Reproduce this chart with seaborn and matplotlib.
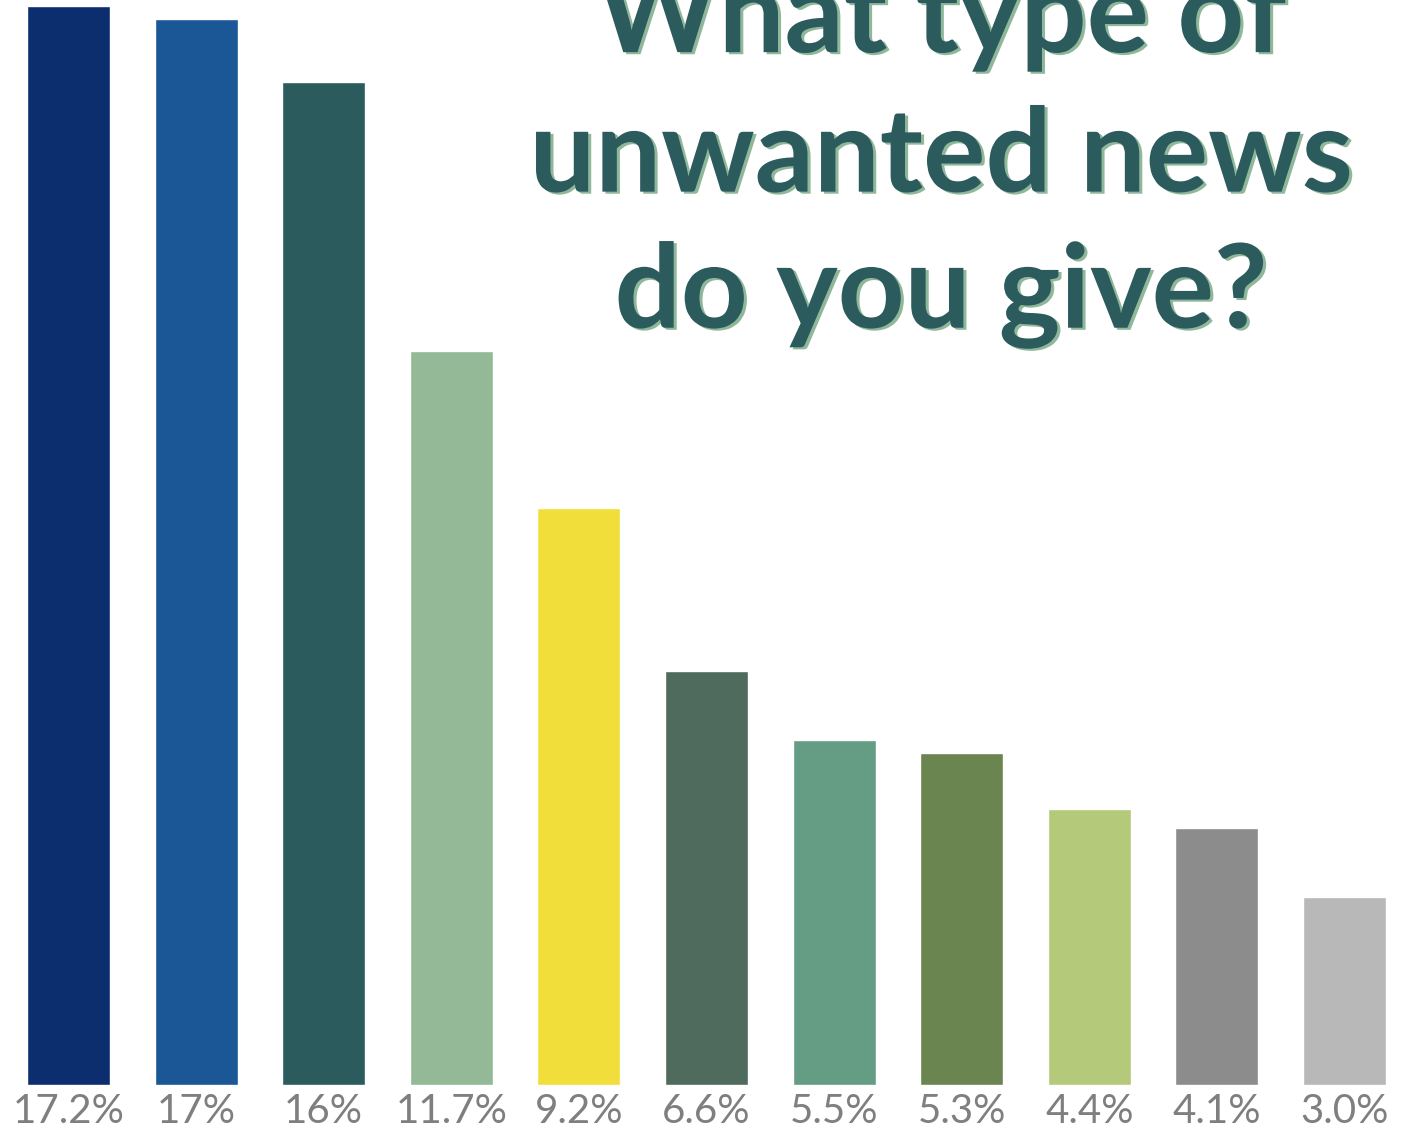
import matplotlib
matplotlib.use('Agg')
import matplotlib.pyplot as plt
import matplotlib.patheffects as pe
import seaborn as sns
import pandas as pd

# 数据
categories = ['A', 'B', 'C', 'D', 'E', 'F', 'G', 'H', 'I', 'J', 'K']
values = [17.2, 17.0, 16.0, 11.7, 9.2, 6.6, 5.5, 5.3, 4.4, 4.1, 3.0]
labels = ['17.2%', '17%', '16%', '11.7%', '9.2%', '6.6%', '5.5%', '5.3%', '4.4%', '4.1%', '3.0%']
colors = ['#0c2e6e', '#1b5797', '#2b5b5d', '#93b996', '#f2de3a', '#4f6b5e',
          '#649d84', '#6b8550', '#b5c97b', '#8c8c8c', '#b8b8b8']
title_lines = ['What type of', 'unwanted news', 'do you give?']

df = pd.DataFrame({'cat': categories, 'val': values})

sns.set_theme(style='white')
plt.rcParams['font.family'] = ['Lato', 'DejaVu Sans']

fig = plt.figure(figsize=(14.03, 11.34), dpi=100)
ax = fig.add_axes([0, 0.0432, 1, 0.9568])
sns.barplot(data=df, x='cat', y='val', hue='cat', palette=colors,
            legend=False, width=0.65, saturation=1, ax=ax)

ax.set_xlim(-0.537, 10.458)
ax.set_ylim(0, 17.30)
ax.set_xlabel('')
ax.set_ylabel('')
ax.set_yticks([])
ax.set_xticks(range(len(labels)))
ax.set_xticklabels(labels, color='#7f7f7f', fontsize=29)
ax.tick_params(axis='x', length=0, pad=6)
for s in ax.spines.values():
    s.set_visible(False)
ax.patch.set_alpha(0)

# 标题（带阴影）
shadow = [pe.SimplePatchShadow(offset=(2.2, -1.5), shadow_rgbFace='#8fb89a', alpha=1), pe.Normal()]
for line, yb in zip(title_lines, [0.954, 0.831, 0.711]):
    fig.text(0.6707, yb, line, ha='center', va='baseline', fontsize=84,
             fontweight='bold', color='#2b5b5d', path_effects=shadow)

fig.savefig('out.png', dpi=100)
